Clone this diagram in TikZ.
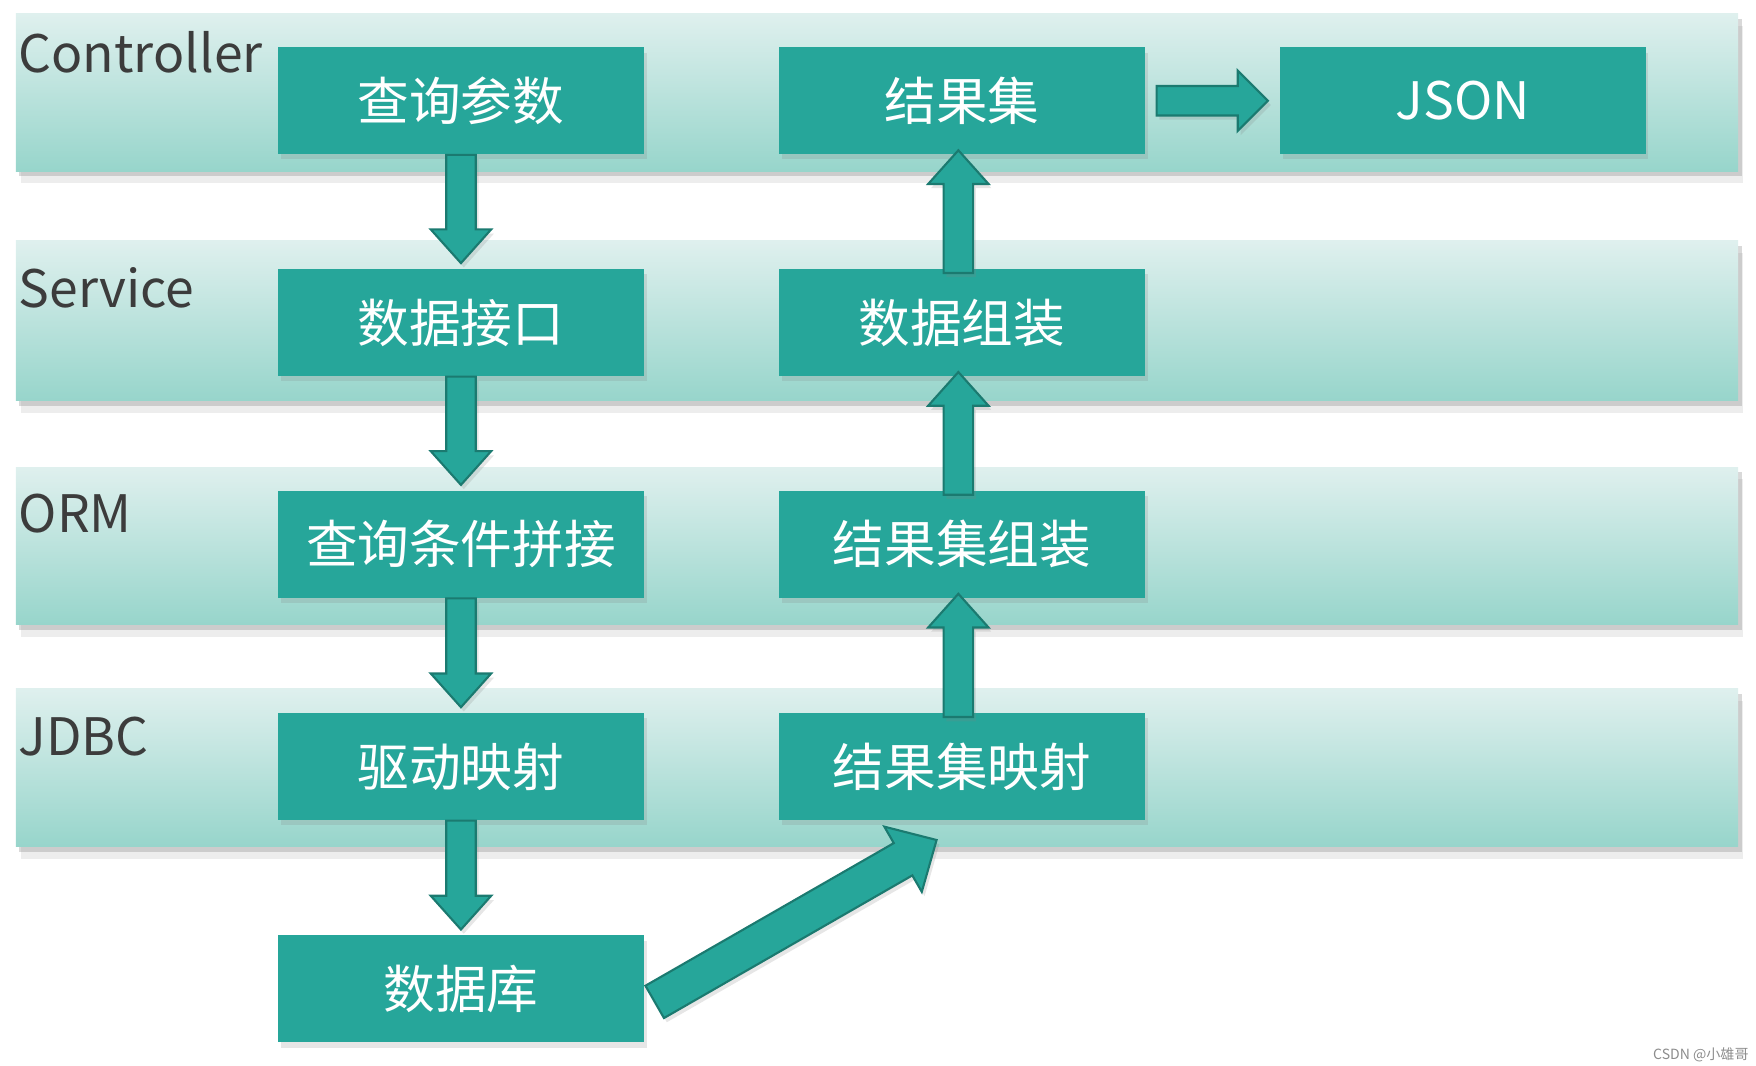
\documentclass[tikz,border=0pt]{standalone}
\usepackage{fontspec}
\newfontfamily\cjk{Noto Sans CJK SC}
\usetikzlibrary{calc,shadows}
\definecolor{boxteal}{HTML}{26A69A}
\definecolor{arrowedge}{HTML}{1B7A70}
\definecolor{bandtop}{HTML}{DFF0EE}
\definecolor{bandbot}{HTML}{97D5CB}
\definecolor{labelgray}{HTML}{3C3C3C}
\def\blockarrow[#1](#2)(#3)(#4:#5:#6){%
  \coordinate (ba) at (#2); \coordinate (bb) at (#3);
  \coordinate (bh) at ($(bb)!#6!(ba)$);
  \draw[#1] ($(ba)!#4!90:(bb)$) -- ($(bh)!#4!90:(bb)$) -- ($(bh)!#5!90:(bb)$) -- (bb)
    -- ($(bh)!#5!-90:(bb)$) -- ($(bh)!#4!-90:(bb)$) -- ($(ba)!#4!-90:(bb)$) -- cycle;}

\begin{document}
\begin{tikzpicture}[x=0.011256cm, y=-0.011256cm,
    band/.style={top color=bandtop, bottom color=bandbot,
      drop shadow={shadow xshift=1pt, shadow yshift=-1.5pt, opacity=.3},
      drop shadow={shadow xshift=1.5pt, shadow yshift=-3.5pt, opacity=.14}},
    layer/.style={anchor=base west, inner sep=0pt, text=labelgray,
      font=\cjk\fontsize{14.7}{14.7}\selectfont},
    stage/.style={fill=boxteal, text=white, inner sep=0pt,
      minimum width=104.1pt, minimum height=30.4pt,
      font=\cjk\fontsize{14.7}{14.7}\selectfont,
      drop shadow={shadow xshift=.8pt, shadow yshift=-1.5pt, opacity=.2}},
    flow/.style={fill=boxteal, draw=arrowedge, line width=.6pt, line join=miter,
      drop shadow={shadow xshift=.8pt, shadow yshift=-1.2pt, opacity=.2}}]
  \useasboundingbox (0,0) rectangle (1560,947);

  % layers
  \shade[band] (14,12) rectangle (1544,152);
  \shade[band] (14,214) rectangle (1544,356);
  \shade[band] (14,415) rectangle (1544,555);
  \shade[band] (14,612) rectangle (1544,752);

  \node[layer] (lctrl) at (16,64) {Controller};
  \node[layer] (lsvc) at (16,273) {Service};
  \node[layer] (lorm) at (16,473) {ORM};
  \node[layer] (ljdbc) at (16,671) {JDBC};

  % request side
  \node[stage] (qparam) at (409.5,89.5) {查询参数};
  \node[stage] (dapi) at (409.5,286.5) {数据接口};
  \node[stage] (qcond) at (409.5,483.5) {查询条件拼接};
  \node[stage] (drvmap) at (409.5,681) {驱动映射};
  \node[stage] (dbase) at (409.5,878.5) {数据库};

  % result side
  \node[stage] (result) at (854.5,89.5) {结果集};
  \node[stage] (dassem) at (854.5,286.5) {数据组装};
  \node[stage] (rsetasm) at (854.5,483.5) {结果集组装};
  \node[stage] (rsetmap) at (854.5,681) {结果集映射};
  \node[stage] (json) at (1299.5,89.5) {JSON};

  % arrows
  \blockarrow[flow](qparam.south)([yshift=1.5pt]dapi.north)(4.2pt:8.6pt:9.6pt);
  \blockarrow[flow](dapi.south)([yshift=1.5pt]qcond.north)(4.2pt:8.6pt:9.6pt);
  \blockarrow[flow](qcond.south)([yshift=1.5pt]drvmap.north)(4.2pt:8.6pt:9.6pt);
  \blockarrow[flow](drvmap.south)([yshift=1.5pt]dbase.north)(4.2pt:8.6pt:9.6pt);

  \blockarrow[flow]([xshift=-1pt,yshift=-1.3pt]rsetmap.north)([xshift=-1pt,yshift=1.3pt]rsetasm.south)(4.2pt:8.6pt:9.6pt);
  \blockarrow[flow]([xshift=-1pt,yshift=-1.3pt]rsetasm.north)([xshift=-1pt,yshift=1.3pt]dassem.south)(4.2pt:8.6pt:9.6pt);
  \blockarrow[flow]([xshift=-1pt,yshift=-1.3pt]dassem.north)([xshift=-1pt,yshift=1.3pt]result.south)(4.2pt:8.6pt:9.6pt);

  \blockarrow[flow]([xshift=3.2pt]result.east)([xshift=-3.2pt]json.west)(4.2pt:8.6pt:8.6pt);
  \blockarrow[flow]([xshift=2.9pt,yshift=-3.7pt]dbase.east)([xshift=-7.2pt,yshift=-5.5pt]rsetmap.south)(5.3pt:10.7pt:11pt);

  \node[anchor=east, inner sep=0pt, text=black!45, font=\cjk\fontsize{4}{4}\selectfont] (mark) at (1554,937) {CSDN @小雄哥};
\end{tikzpicture}
\end{document}
